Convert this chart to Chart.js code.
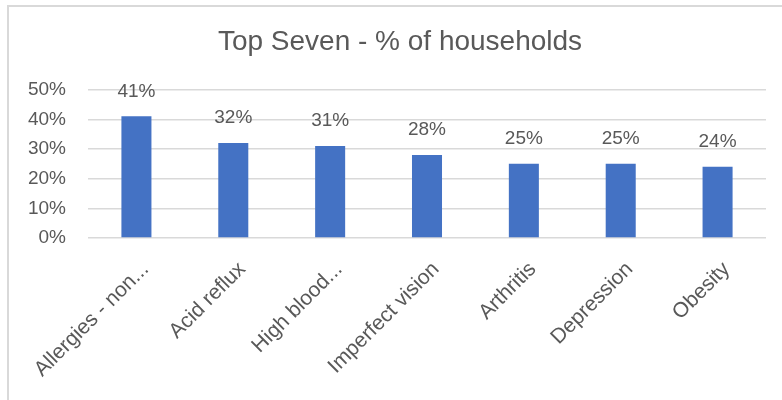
<!DOCTYPE html>
<html>
<head>
<meta charset="utf-8">
<title>Top Seven</title>
<script src="https://cdn.jsdelivr.net/npm/chart.js@4.4.0/dist/chart.umd.min.js"></script>
<style>
  body { margin: 0; background: #fff; overflow: hidden; }
  #frame { position: absolute; left: 7px; top: 5px; width: 900px; height: 500px;
           border-top: 2px solid #d9d9d9; border-left: 2px solid #d9d9d9; }
  /* el lienzo es un poco más ancho que la ventana para centrar el título */
  #wrap { position: absolute; left: 0; top: 0; width: 800px; height: 400px; }
</style>
</head>
<body>
<div id="frame"></div>
<div id="wrap"><canvas id="grafico" width="800" height="400"></canvas></div>
<script>
var categorias = ['Allergies - non...', 'Acid reflux', 'High blood...', 'Imperfect vision', 'Arthritis', 'Depression', 'Obesity'];
var porcentajes = [41, 32, 31, 28, 25, 25, 24];
var ticksY = [0, 10, 20, 30, 40, 50];

var gris = '#595959';
var fuente = 'Liberation Sans';

// etiquetas de valor encima de cada barra
var etiquetasValor = {
    id: 'etiquetasValor',
    afterDatasetsDraw: function (chart) {
        var ctx = chart.ctx;
        var meta = chart.getDatasetMeta(0);
        ctx.save();
        ctx.fillStyle = gris;
        ctx.font = '19px "' + fuente + '"';
        ctx.textAlign = 'center';
        ctx.textBaseline = 'middle';
        meta.data.forEach(function (bar, i) {
            ctx.fillText(porcentajes[i] + '%', bar.x, bar.y - 25);
        });
        ctx.restore();
    }
};

var ctx = document.getElementById('grafico').getContext('2d');
var grafico = new Chart(ctx, {
    type: 'bar',
    data: {
        labels: categorias,
        datasets: [{
            label: '% of households',
            data: porcentajes,
            backgroundColor: '#4472C4',
            barPercentage: 0.31,
            categoryPercentage: 1
        }]
    },
    options: {
        responsive: false,
        animation: false,
        layout: { padding: { left: 14, right: 14, top: 0, bottom: 0 } },
        plugins: {
            legend: { display: false },
            tooltip: { enabled: false },
            title: {
                display: true,
                text: 'Top Seven - % of households',
                color: gris,
                font: { family: fuente, size: 28, weight: 'normal' },
                padding: { top: 25, bottom: 31 }
            }
        },
        scales: {
            x: {
                grid: { display: false },
                border: { display: false },
                ticks: {
                    color: gris,
                    font: { family: fuente, size: 21 },
                    maxRotation: 45,
                    minRotation: 45,
                    autoSkip: false,
                    labelOffset: 9,
                    padding: 11
                },
                afterFit: function (scale) { scale.height = 162; }
            },
            y: {
                min: 0,
                max: 50,
                afterBuildTicks: function (scale) {
                    scale.ticks = ticksY.map(function (v) { return { value: v }; });
                },
                grid: { color: '#d9d9d9', lineWidth: 1.5, drawTicks: false },
                border: { display: false },
                ticks: {
                    color: gris,
                    font: { family: fuente, size: 19 },
                    padding: 22,
                    callback: function (v) { return v + '%'; }
                },
                afterFit: function (scale) { scale.width = 74; }
            },
            // margen vacío a la derecha del área de barras
            margenDerecho: {
                axis: 'y',
                position: 'right',
                grid: { display: false },
                border: { display: false },
                ticks: { display: false },
                afterFit: function (scale) { scale.width = 20; }
            }
        }
    },
    plugins: [etiquetasValor]
});
</script>
</body>
</html>
